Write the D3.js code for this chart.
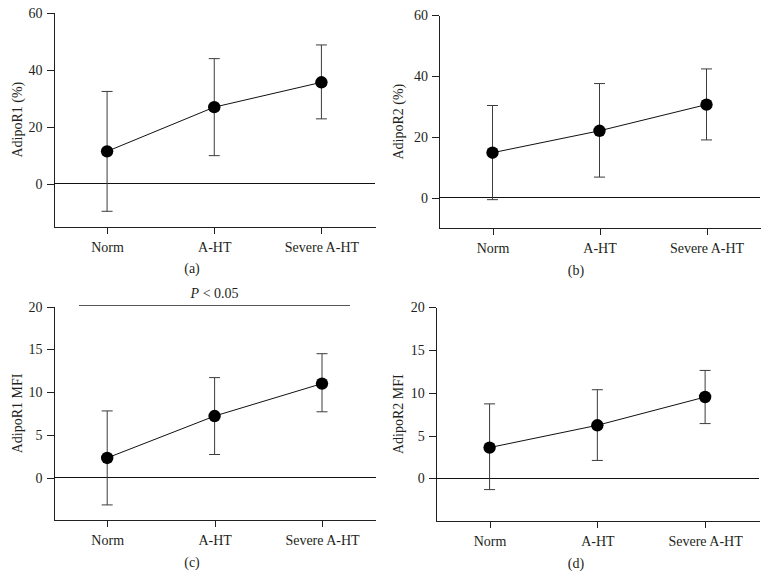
<!DOCTYPE html>
<html>
<head>
<meta charset="utf-8">
<script src="https://cdn.jsdelivr.net/npm/d3@7"></script>
<style>
  body { margin: 0; background: #fff; }
  svg { display: block; }
  text { font-family: "Liberation Serif", "DejaVu Serif", serif; fill: #231f20; }
  .axis text { font-size: 14px; }
  .axis path, .axis line { stroke: #231f20; shape-rendering: crispEdges; }
</style>
</head>
<body>
<div id="chart"></div>
<script>
var categories = ["Norm", "A-HT", "Severe A-HT"];

// AdipoR1 (%)
var r1PctMean  = [11.4, 26.9, 35.6];
var r1PctUpper = [32.4, 43.9, 48.7];
var r1PctLower = [-9.6, 9.9, 22.8];

// AdipoR2 (%)
var r2PctMean  = [14.8, 22.0, 30.6];
var r2PctUpper = [30.3, 37.5, 42.3];
var r2PctLower = [-0.6, 6.8, 19.0];

// AdipoR1 MFI
var r1MfiMean  = [2.3, 7.2, 11.0];
var r1MfiUpper = [7.8, 11.7, 14.5];
var r1MfiLower = [-3.2, 2.7, 7.7];

// AdipoR2 MFI
var r2MfiMean  = [3.6, 6.2, 9.5];
var r2MfiUpper = [8.7, 10.35, 12.6];
var r2MfiLower = [-1.3, 2.1, 6.4];

var pctTicks = [0, 20, 40, 60];
var mfiTicks = [0, 5, 10, 15, 20];

var width = 768,
    height = 579;

var svg = d3.select("#chart")
    .append("svg")
    .attr("width", width)
    .attr("height", height);

// panel boxes (plot area in pixels)
var panels = [
  { tag: "(a)", label: "AdipoR1 (%)", mean: r1PctMean, upper: r1PctUpper, lower: r1PctLower,
    domain: [-15, 60], ticks: pctTicks, left: 53.5, right: 375, top: 12.7, bottom: 226.7, ox: 0, labelX: 17 },
  { tag: "(b)", label: "AdipoR2 (%)", mean: r2PctMean, upper: r2PctUpper, lower: r2PctLower,
    domain: [-10, 60], ticks: pctTicks, left: 439, right: 760, top: 15, bottom: 228.3, ox: 384, labelX: 398 },
  { tag: "(c)", label: "AdipoR1 MFI", mean: r1MfiMean, upper: r1MfiUpper, lower: r1MfiLower,
    domain: [-5, 20], ticks: mfiTicks, left: 53.5, right: 375.7, top: 306.7, bottom: 520.3, ox: 0, labelX: 17, pvalue: true },
  { tag: "(d)", label: "AdipoR2 MFI", mean: r2MfiMean, upper: r2MfiUpper, lower: r2MfiLower,
    domain: [-5, 20], ticks: mfiTicks, left: 435.7, right: 759, top: 307, bottom: 521.3, ox: 384, labelX: 398 }
];

panels.forEach(drawPanel);

function drawPanel(p) {
  var g = svg.append("g");

  var x = d3.scalePoint()
      .domain(categories)
      .range([p.left, p.right])
      .padding(0.5);

  var y = d3.scaleLinear()
      .domain(p.domain)
      .range([p.bottom, p.top]);

  var rows = categories.map(function(c, i) {
    return { cat: c, mean: p.mean[i], hi: p.upper[i], lo: p.lower[i] };
  });

  g.append("g")
      .attr("class", "axis")
      .attr("transform", "translate(" + p.left + ",0)")
      .call(d3.axisLeft(y).tickValues(p.ticks).tickSize(7).tickSizeOuter(0).tickPadding(4).tickFormat(d3.format("d")));

  g.append("g")
      .attr("class", "axis")
      .attr("transform", "translate(0," + p.bottom + ")")
      .call(d3.axisBottom(x).tickSize(7).tickSizeOuter(0).tickPadding(8));

  // zero reference line
  g.append("line")
      .attr("x1", p.left)
      .attr("x2", p.right)
      .attr("y1", y(0))
      .attr("y2", y(0))
      .attr("stroke", "#111")
      .attr("shape-rendering", "crispEdges");

  // error bars
  var bars = g.selectAll(".err")
    .data(rows)
    .enter().append("g")
      .attr("class", "err")
      .attr("stroke", "#3c3c3c")
      .attr("stroke-width", 1);

  bars.append("line")
      .attr("x1", function(d) { return x(d.cat); })
      .attr("x2", function(d) { return x(d.cat); })
      .attr("y1", function(d) { return y(d.hi); })
      .attr("y2", function(d) { return y(d.lo); });

  bars.append("line")
      .attr("x1", function(d) { return x(d.cat) - 5.5; })
      .attr("x2", function(d) { return x(d.cat) + 5.5; })
      .attr("y1", function(d) { return y(d.hi); })
      .attr("y2", function(d) { return y(d.hi); });

  bars.append("line")
      .attr("x1", function(d) { return x(d.cat) - 5.5; })
      .attr("x2", function(d) { return x(d.cat) + 5.5; })
      .attr("y1", function(d) { return y(d.lo); })
      .attr("y2", function(d) { return y(d.lo); });

  var line = d3.line()
      .x(function(d) { return x(d.cat); })
      .y(function(d) { return y(d.mean); });

  g.append("path")
      .datum(rows)
      .attr("d", line)
      .attr("fill", "none")
      .attr("stroke", "#111")
      .attr("stroke-width", 1);

  g.selectAll(".dot")
    .data(rows)
    .enter().append("circle")
      .attr("class", "dot")
      .attr("cx", function(d) { return x(d.cat); })
      .attr("cy", function(d) { return y(d.mean); })
      .attr("r", 6.2)
      .attr("fill", "#000");

  // y label
  g.append("text")
      .attr("transform", "translate(" + p.labelX + "," + ((p.top + p.bottom) / 2) + ") rotate(-90)")
      .attr("text-anchor", "middle")
      .attr("dy", "0.35em")
      .style("font-size", "14px")
      .text(p.label);

  // panel tag
  g.append("text")
      .attr("x", p.ox + 192)
      .attr("y", p.bottom + 46.5)
      .attr("text-anchor", "middle")
      .style("font-size", "14px")
      .text(p.tag);

  if (p.pvalue) {
    var step = x.step();
    var ly = y(20) - 1.7;
    g.append("line")
        .attr("x1", x(categories[0]) - 0.26 * step)
        .attr("x2", x(categories[2]) + 0.26 * step)
        .attr("y1", ly)
        .attr("y2", ly)
        .attr("stroke", "#555")
        .attr("shape-rendering", "crispEdges");

    var t = g.append("text")
        .attr("x", x(categories[1]))
        .attr("y", ly - 7)
        .attr("text-anchor", "middle")
        .style("font-size", "14px");
    t.append("tspan").style("font-style", "italic").text("P");
    t.append("tspan").text(" < 0.05");
  }
}
</script>
</body>
</html>
